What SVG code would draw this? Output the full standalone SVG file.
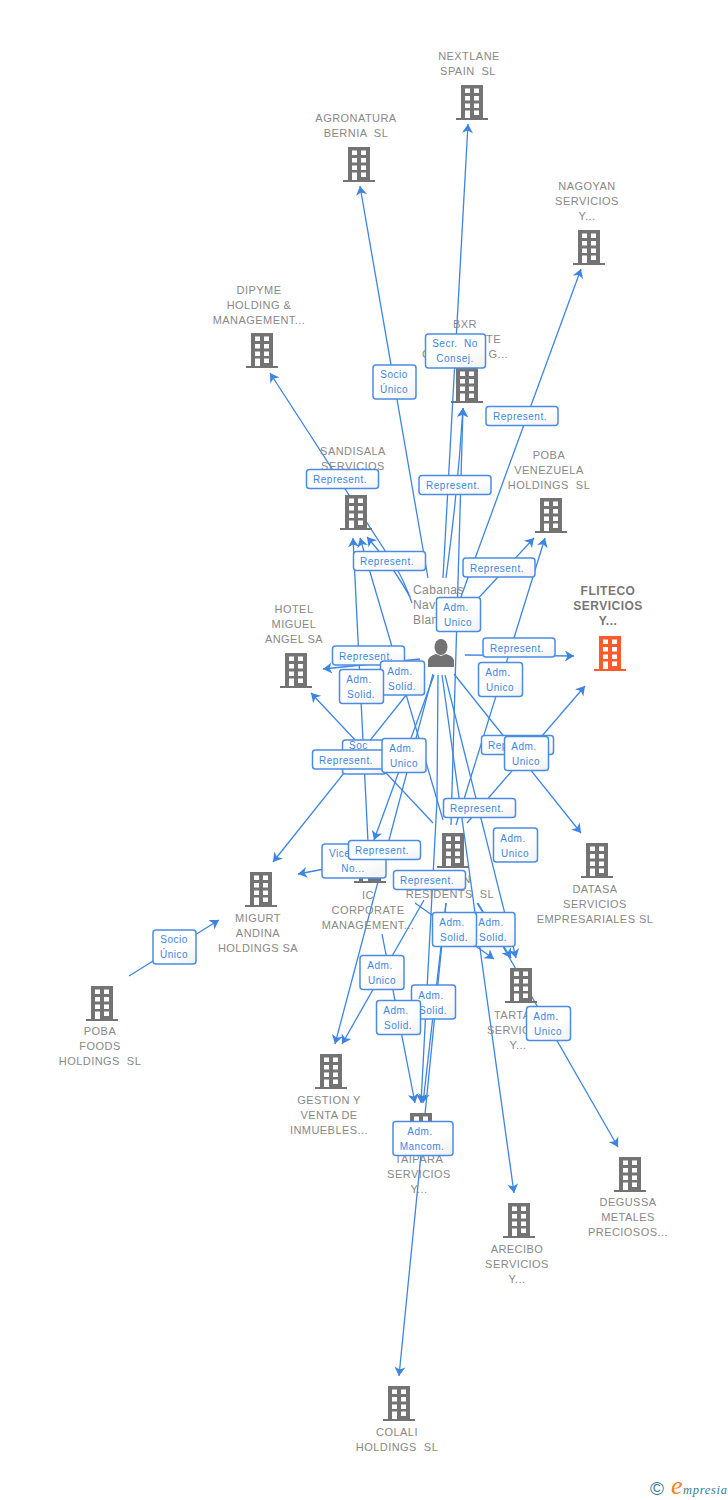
<svg xmlns="http://www.w3.org/2000/svg" width="728" height="1500" viewBox="0 0 728 1500">
<style>
.n{font:11px "Liberation Sans",Arial,sans-serif;letter-spacing:.45px;fill:#888;text-anchor:middle;white-space:pre}
.f{font:bold 12px "Liberation Sans",Arial,sans-serif;letter-spacing:.5px;fill:#777;text-anchor:middle;white-space:pre}
.p{font:12px "Liberation Sans",Arial,sans-serif;letter-spacing:.4px;fill:#888}
.c path{fill:none;stroke:#3d85e2;stroke-width:1.3;marker-end:url(#a)}
.l rect{fill:url(#g);stroke:#4a8ce4;stroke-width:1.5}
.l text{font:10px "Liberation Sans",Arial,sans-serif;letter-spacing:.5px;fill:#3d85e2;text-anchor:middle;white-space:pre}
.b{color:#737373}
.o{color:#ff5a2d}
</style>
<defs>
<linearGradient id="g" x1="0" y1="0" x2="1" y2="1"><stop offset="0" stop-color="#fff"/><stop offset=".6" stop-color="#fff"/><stop offset="1" stop-color="#f0f0f0"/></linearGradient>
<marker id="a" markerUnits="userSpaceOnUse" markerWidth="14" markerHeight="12" refX="11" refY="6" orient="auto"><path d="M2 .5L11 6L2 11.5L4.500 6Z" fill="#3d85e2"/></marker>
<symbol id="bd" width="32" height="35" viewBox="0 0 32 35" overflow="visible">
<path fill="currentColor" d="M5 0H27V33H32V35H0V33H5Z"/>
<path fill="#fff" d="M9 3.500h5v4.500h-5zM18 3.500h5v4.500h-5zM9 11h5v4.500h-5zM18 11h5v4.500h-5zM9 18.500h5v4.500h-5zM18 18.500h5v4.500h-5zM18 25.500h5v4.500h-5zM9 25.500h5V33H9z"/>
</symbol>
</defs>
<g id="connectors" class="c">
<path d="M443 578L468 124"/>
<path d="M446 578Q458 490 463 408"/>
<path d="M451 825L463 408"/>
<path d="M428 578L360 186"/>
<path d="M458 605L581 269"/>
<path d="M460 618L534 538"/>
<path d="M456 825L545 538"/>
<path d="M412 603Q404 580 395 566L270 373"/>
<path d="M410 597Q395 570 378 550L367 537"/>
<path d="M443 820L360 538"/>
<path d="M368 842L353 538"/>
<path d="M420 659L323 669"/>
<path d="M433 823L311 693"/>
<path d="M423 674L273 862"/>
<path d="M434 675L374 840"/>
<path d="M433 674L335 1044"/>
<path d="M424 900L342 1044"/>
<path d="M382 934L415 1103"/>
<path d="M438 675L437 800L421 1103"/>
<path d="M446 903L423 1103"/>
<path d="M446 903L399 1376"/>
<path d="M415 903L494 959"/>
<path d="M477 903L511 958"/>
<path d="M445 675L516 958"/>
<path d="M478 903L618 1147"/>
<path d="M442 675L514 1193"/>
<path d="M454 674L581 833"/>
<path d="M465 655L574 656"/>
<path d="M467 823L585 686"/>
<path d="M372 860L298 874"/>
<path d="M129 976L219 920"/>
</g>
<g id="n-nextlane"><use href="#bd" class="b" x="456" y="85"/><text class="n" x="469" y="60">NEXTLANE</text><text class="n" x="468" y="75">SPAIN  SL</text></g>
<g id="n-agronatura"><use href="#bd" class="b" x="343" y="147"/><text class="n" x="356" y="122">AGRONATURA</text><text class="n" x="356" y="137">BERNIA  SL</text></g>
<g id="n-nagoyan"><use href="#bd" class="b" x="573" y="230"/><text class="n" x="587" y="190">NAGOYAN</text><text class="n" x="587" y="205">SERVICIOS</text><text class="n" x="587" y="220">Y...</text></g>
<g id="n-dipyme"><use href="#bd" class="b" x="246" y="333"/><text class="n" x="259" y="294">DIPYME</text><text class="n" x="259" y="309">HOLDING &amp;</text><text class="n" x="259" y="324">MANAGEMENT...</text></g>
<g id="n-bxr"><use href="#bd" class="b" x="451" y="368"/><text class="n" x="465" y="328">BXR</text><text class="n" x="501" y="343" style="text-anchor:end">TE</text><text class="n" x="422" y="358" style="text-anchor:start">C</text><text class="n" x="508" y="358" style="text-anchor:end">G...</text></g>
<g id="n-sandisala"><use href="#bd" class="b" x="340" y="495"/><text class="n" x="353" y="455">SANDISALA</text><text class="n" x="353" y="470">SERVICIOS</text></g>
<g id="n-poba-venezuela"><use href="#bd" class="b" x="535" y="498"/><text class="n" x="549" y="459">POBA</text><text class="n" x="549" y="474">VENEZUELA</text><text class="n" x="549" y="489">HOLDINGS  SL</text></g>
<g id="n-fliteco"><use href="#bd" class="o" x="594" y="636"/><text class="f" x="608" y="595">FLITECO</text><text class="f" x="608" y="610">SERVICIOS</text><text class="f" x="608" y="625">Y...</text></g>
<g id="n-hotel"><use href="#bd" class="b" x="280" y="653"/><text class="n" x="294" y="613">HOTEL</text><text class="n" x="294" y="628">MIGUEL</text><text class="n" x="294" y="643">ANGEL SA</text></g>
<g id="n-migurt"><use href="#bd" class="b" x="245" y="872"/><text class="n" x="258" y="922">MIGURT</text><text class="n" x="258" y="937">ANDINA</text><text class="n" x="258" y="952">HOLDINGS SA</text></g>
<g id="n-ic"><use href="#bd" class="b" x="354" y="848"/><text class="n" x="368" y="899">IC</text><text class="n" x="368" y="914">CORPORATE</text><text class="n" x="368" y="929">MANAGEMENT...</text></g>
<g id="n-residents"><use href="#bd" class="b" x="437" y="833"/><text class="n" x="471" y="883" style="text-anchor:end">N</text><text class="n" x="450" y="898">RESIDENTS  SL</text></g>
<g id="n-datasa"><use href="#bd" class="b" x="581" y="843"/><text class="n" x="595" y="893">DATASA</text><text class="n" x="595" y="908">SERVICIOS</text><text class="n" x="595" y="923">EMPRESARIALES SL</text></g>
<g id="n-tarta"><use href="#bd" class="b" x="505" y="968"/><text class="n" x="494" y="1019" style="text-anchor:start">TARTA</text><text class="n" x="487" y="1034" style="text-anchor:start">SERVIC</text><text class="n" x="518" y="1049">Y...</text></g>
<g id="n-poba-foods"><use href="#bd" class="b" x="86" y="986"/><text class="n" x="100" y="1035">POBA</text><text class="n" x="100" y="1050">FOODS</text><text class="n" x="100" y="1065">HOLDINGS  SL</text></g>
<g id="n-gestion"><use href="#bd" class="b" x="315" y="1054"/><text class="n" x="329" y="1104">GESTION Y</text><text class="n" x="329" y="1119">VENTA DE</text><text class="n" x="329" y="1134">INMUEBLES...</text></g>
<g id="n-taipara"><use href="#bd" class="b" x="405" y="1113"/><text class="n" x="419" y="1163">TAIPARA</text><text class="n" x="419" y="1178">SERVICIOS</text><text class="n" x="419" y="1193">Y...</text></g>
<g id="n-degussa"><use href="#bd" class="b" x="614" y="1157"/><text class="n" x="628" y="1206">DEGUSSA</text><text class="n" x="628" y="1221">METALES</text><text class="n" x="628" y="1236">PRECIOSOS...</text></g>
<g id="n-arecibo"><use href="#bd" class="b" x="503" y="1203"/><text class="n" x="517" y="1253">ARECIBO</text><text class="n" x="517" y="1268">SERVICIOS</text><text class="n" x="517" y="1283">Y...</text></g>
<g id="n-colali"><use href="#bd" class="b" x="383" y="1386"/><text class="n" x="397" y="1436">COLALI</text><text class="n" x="397" y="1451">HOLDINGS  SL</text></g>
<g id="n-person"><ellipse cx="441" cy="647" rx="6.500" ry="8" fill="#737373"/><path fill="#737373" d="M428 667V660Q429 656 436 654L441 656L446 654Q453 656 454 660V667Z"/><text class="p" x="413" y="594">Cabanas</text><text class="p" x="413" y="609">Nav</text><text class="p" x="413" y="624">Blan</text></g>
<g id="labels" class="l">
<g><rect x="373" y="365" width="43" height="34" rx="3"/><text x="394" y="378">Socio</text><text x="394" y="393">Único</text></g>
<g><rect x="425.500" y="334" width="60" height="34" rx="3"/><text x="455" y="347">Secr.  No</text><text x="455" y="362">Consej.</text></g>
<g><rect x="486" y="406.500" width="72" height="19" rx="3"/><text x="520" y="420">Represent.</text></g>
<g><rect x="419" y="475.500" width="72" height="19" rx="3"/><text x="453" y="489">Represent.</text></g>
<g><rect x="306.500" y="469.500" width="72" height="19" rx="3"/><text x="340" y="483">Represent.</text></g>
<g><rect x="353.500" y="551.500" width="72" height="19" rx="3"/><text x="387" y="565">Represent.</text></g>
<g><rect x="463" y="558" width="72" height="19" rx="3"/><text x="497" y="572">Represent.</text></g>
<g><rect x="436.500" y="597.500" width="44" height="34" rx="3"/><text x="456" y="611">Adm.</text><text x="458" y="626">Unico</text></g>
<g><rect x="483" y="638" width="72" height="19" rx="3"/><text x="517" y="652">Represent.</text></g>
<g><rect x="332.500" y="646" width="72" height="19" rx="3"/><text x="366" y="660">Represent.</text></g>
<g><rect x="380.500" y="661" width="44" height="34" rx="3"/><text x="400" y="675">Adm.</text><text x="402" y="690">Solid.</text></g>
<g><rect x="339.500" y="669.500" width="44" height="34" rx="3"/><text x="359" y="683">Adm.</text><text x="361" y="698">Solid.</text></g>
<g><rect x="478.500" y="662.500" width="44" height="34" rx="3"/><text x="498" y="676">Adm.</text><text x="500" y="691">Unico</text></g>
<g><rect x="481.500" y="735.500" width="72" height="19" rx="3"/><text x="488" y="749" style="text-anchor:start">Rep</text></g>
<g><rect x="504.500" y="736.500" width="44" height="34" rx="3"/><text x="524" y="750">Adm.</text><text x="526" y="765">Unico</text></g>
<g><rect x="342.500" y="740" width="44" height="34" rx="3"/><text x="349" y="749" style="text-anchor:start">Soc</text></g>
<g><rect x="312.500" y="750" width="72" height="19" rx="3"/><text x="346" y="764">Represent.</text></g>
<g><rect x="382" y="738.500" width="44" height="34" rx="3"/><text x="402" y="752">Adm.</text><text x="404" y="767">Unico</text></g>
<g><rect x="443.500" y="798.500" width="72" height="19" rx="3"/><text x="477" y="812">Represent.</text></g>
<g><rect x="493.500" y="828" width="44" height="34" rx="3"/><text x="513" y="842">Adm.</text><text x="515" y="857">Unico</text></g>
<g><rect x="322" y="844" width="64" height="34" rx="3"/><text x="329" y="857" style="text-anchor:start">Vice</text><text x="353" y="872">No...</text></g>
<g><rect x="348.500" y="840.500" width="72" height="19" rx="3"/><text x="382" y="854">Represent.</text></g>
<g><rect x="393.500" y="870.500" width="72" height="19" rx="3"/><text x="427" y="884">Represent.</text></g>
<g><rect x="471" y="912.500" width="44" height="34" rx="3"/><text x="491" y="926">Adm.</text><text x="493" y="941">Solid.</text></g>
<g><rect x="432.500" y="912.500" width="44" height="34" rx="3"/><text x="452" y="926">Adm.</text><text x="454" y="941">Solid.</text></g>
<g><rect x="360" y="955.500" width="44" height="34" rx="3"/><text x="380" y="969">Adm.</text><text x="382" y="984">Unico</text></g>
<g><rect x="411.500" y="985" width="44" height="34" rx="3"/><text x="431" y="999">Adm.</text><text x="433" y="1014">Solid.</text></g>
<g><rect x="376.500" y="1000.500" width="44" height="34" rx="3"/><text x="396" y="1014">Adm.</text><text x="398" y="1029">Solid.</text></g>
<g><rect x="526.500" y="1006.500" width="44" height="34" rx="3"/><text x="546" y="1020">Adm.</text><text x="548" y="1035">Unico</text></g>
<g><rect x="393" y="1121.500" width="60" height="34" rx="3"/><text x="420" y="1135">Adm.</text><text x="422" y="1150">Mancom.</text></g>
<g><rect x="153" y="930" width="43" height="34" rx="3"/><text x="174" y="943">Socio</text><text x="174" y="958">Único</text></g>
</g>
<g id="logo"><text x="650" y="1495" style="font:19px 'Liberation Sans',sans-serif;fill:#3d7a94">©</text><text x="671" y="1494" style="font:italic 26px 'Liberation Serif',serif;fill:#f58220">e</text><text x="683" y="1494" style="font:italic 12.500px 'Liberation Serif',serif;letter-spacing:.7px;fill:#2f7f8f">mpresia</text></g>
</svg>
